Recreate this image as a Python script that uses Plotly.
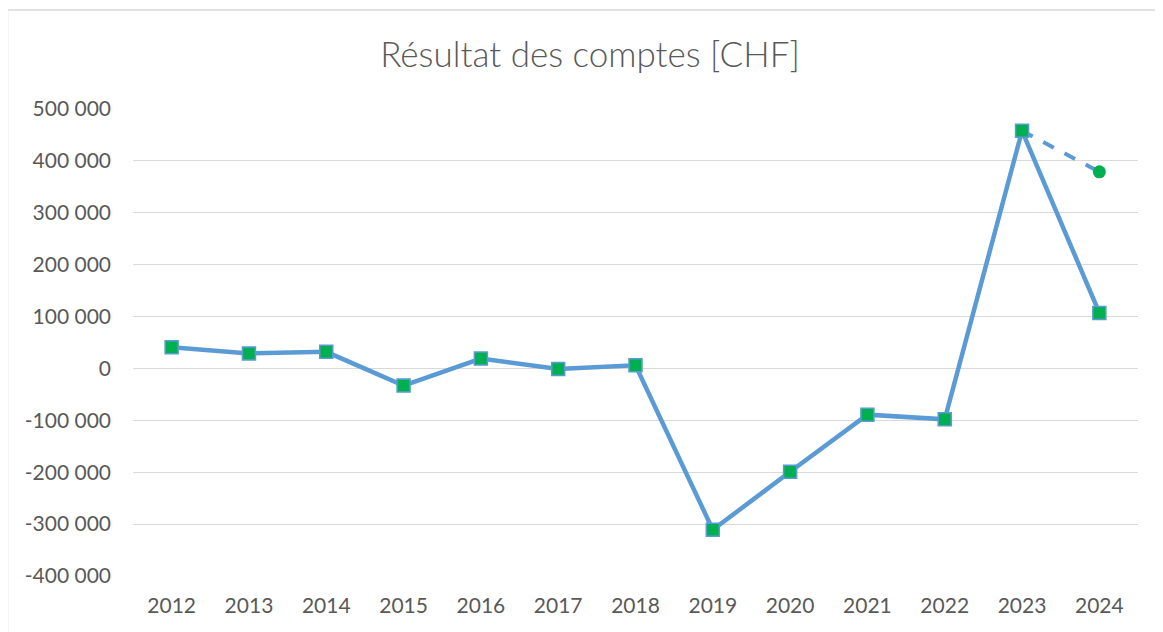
import plotly.graph_objects as go

years = ["2012", "2013", "2014", "2015", "2016", "2017", "2018",
         "2019", "2020", "2021", "2022", "2023", "2024"]
resultat = [41000, 29000, 32000, -33000, 19000, -1000, 6000,
            -311000, -199000, -89000, -98000, 458000, 107000]
budget_years = ["2023", "2024"]
budget_values = [458000, 379000]

tick_vals = [-400000, -300000, -200000, -100000, 0, 100000, 200000, 300000, 400000, 500000]
tick_text = ["-400 000", "-300 000", "-200 000", "-100 000", "0",
             "100 000", "200 000", "300 000", "400 000", "500 000"]

BLUE = "#5B9BD5"
GREEN = "#00B050"
TXT = "#595959"
FONT = "Lato, Open Sans, sans-serif"

fig = go.Figure()
fig.add_trace(go.Scatter(
    x=budget_years, y=budget_values, mode="lines+markers",
    line=dict(color=BLUE, width=4, dash="dash"),
    marker=dict(symbol="circle", size=[0, 13], color=GREEN, opacity=1,
                line=dict(width=0)),
    showlegend=False, hoverinfo="skip"))
fig.add_trace(go.Scatter(
    x=years, y=resultat, mode="lines+markers",
    line=dict(color=BLUE, width=4.5),
    marker=dict(symbol="square", size=13, color=GREEN,
                line=dict(color=BLUE, width=1.5)),
    showlegend=False))

# page body has an 8px margin: positions below are screen px minus 8
OFF = 8
W, H = 1163 - 2 * OFF, 632
L = 133 - OFF
T = 109 - OFF
R = W - (1138 - OFF)
B = H - (576 - OFF)
pw, ph = W - L - R, H - T - B

def px(x):
    return (x - OFF - L) / pw

def py(y):
    return (H - B - (y - OFF)) / ph

fig.update_layout(
    width=W, height=H,
    margin=dict(l=L, r=R, t=T, b=B),
    paper_bgcolor="white", plot_bgcolor="white",
    title=dict(text="Résultat des comptes [CHF]",
               x=(590 - OFF) / W, xanchor="center",
               y=1 - (55 - OFF) / H, yanchor="middle",
               font=dict(family=FONT, size=35, color=TXT, weight=300)),
    font=dict(family=FONT, size=21, color=TXT),
    xaxis=dict(type="category", categoryorder="array", categoryarray=years,
               showgrid=False, showline=False, zeroline=False, ticks="",
               ticklabelstandoff=15, range=[-0.5, 12.5]),
    yaxis=dict(range=[-400000, 500000], tickvals=tick_vals, ticktext=tick_text,
               showgrid=True, gridcolor="#D9D9D9", gridwidth=1.3,
               zeroline=False, showline=False, ticks="", ticklabelstandoff=21),
    shapes=[
        dict(type="line", xref="paper", yref="paper", x0=px(7), x1=px(1163),
             y0=py(10), y1=py(10), line=dict(color="#D9D9D9", width=1.5)),
        dict(type="line", xref="paper", yref="paper", x0=px(7.5), x1=px(7.5),
             y0=py(10), y1=py(660), line=dict(color="#D9D9D9", width=1.5)),
    ],
)

fig.write_html("out.html")
